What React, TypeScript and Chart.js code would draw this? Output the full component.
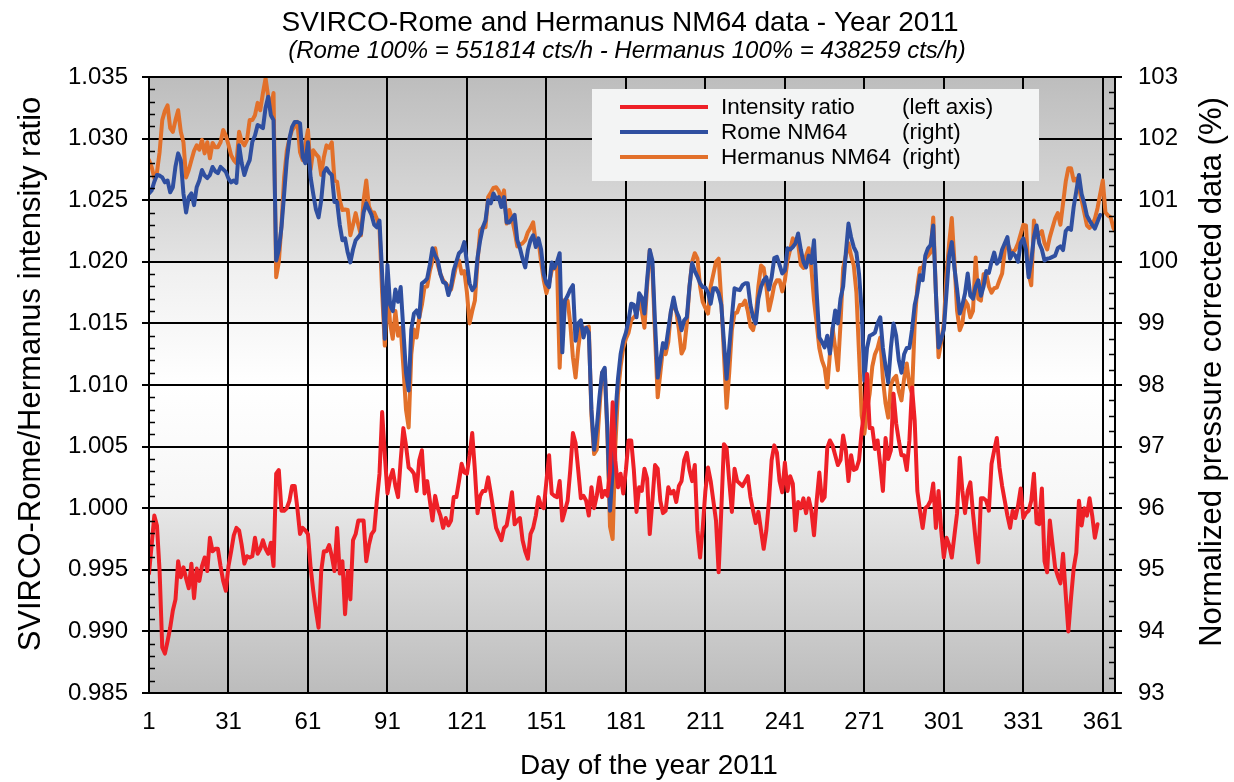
import React, { useEffect, useRef } from "react";
import { Chart, registerables } from "chart.js";

Chart.register(...registerables);

// ---- tick labels ----
const xTickDays = [1, 31, 61, 91, 121, 151, 181, 211, 241, 271, 301, 331, 361];
const leftTicks = [0.985, 0.99, 0.995, 1.0, 1.005, 1.01, 1.015, 1.02, 1.025, 1.03, 1.035];
const rightTicks = [93, 94, 95, 96, 97, 98, 99, 100, 101, 102, 103];

// ---- series (one value per day, starting on day 1) ----
const firstDay = 1;

const ratioValues = [
  0.9947, 0.997, 0.9994, 0.9986, 0.9949, 0.9887, 0.9882, 0.9892, 0.9903, 0.9917,
  0.9926, 0.9957, 0.9944, 0.9952, 0.9943, 0.9935, 0.9955, 0.9927, 0.9951, 0.9941,
  0.9953, 0.996, 0.9949, 0.9976, 0.9965, 0.9967, 0.9967, 0.9953, 0.9941, 0.9933,
  0.9953, 0.9965, 0.9978, 0.9984, 0.9982, 0.997, 0.9955, 0.9961, 0.996, 0.9961,
  0.9976, 0.9963, 0.9967, 0.9974, 0.9967, 0.9963, 0.9972, 0.9953, 1.0028, 1.0031,
  0.9998, 0.9998, 1.0, 1.0006, 1.0018, 1.0018, 1.0, 0.9979, 0.9984, 0.9982,
  0.9979, 0.9952, 0.9933, 0.9917, 0.9903, 0.9949, 0.9965, 0.9965, 0.997, 0.9961,
  0.9949, 0.9984, 0.9947, 0.9957, 0.9914, 0.9949, 0.9926, 0.9974, 0.9979, 0.999,
  0.999, 0.999, 0.9957, 0.997, 0.9979, 0.9982, 1.0006, 1.0028, 1.0078, 1.0043,
  1.0012, 1.0024, 1.0031, 1.0018, 1.0009, 1.0039, 1.0065, 1.0051, 1.0033, 1.0031,
  1.0028, 1.0014, 1.0039, 1.0047, 1.0012, 1.0022, 1.0006, 0.999, 1.001, 1.0,
  0.9994, 0.9984, 0.9992, 0.9986, 0.999, 1.0009, 1.0009, 1.0022, 1.0036, 1.0029,
  1.0028, 1.0043, 1.0061, 1.0031, 0.9996, 1.001, 1.0014, 1.0014, 1.0025, 1.0012,
  0.9998, 0.9984, 0.9979, 0.9974, 0.9984, 0.9986, 0.9998, 1.0013, 0.9987, 0.999,
  0.9992, 0.9974, 0.9965, 0.9959, 0.9979, 0.9984, 0.9994, 1.0009, 1.0002, 1.0,
  1.0022, 1.0043, 1.0012, 1.001, 1.0009, 1.0022, 0.999, 0.9998, 1.0006, 1.0031,
  1.0061, 1.0053, 1.0031, 1.0008, 1.001, 1.0006, 0.9994, 1.0017, 1.0, 1.001,
  1.0025, 1.0009, 1.0014, 1.001, 1.003, 1.0086, 1.0039, 1.0017, 1.0028, 1.0012,
  1.0031, 1.0055, 1.0055, 1.0031, 0.9997, 1.0017, 1.0014, 1.0032, 1.0024, 0.9979,
  1.0006, 1.0035, 1.0032, 1.0006, 0.9996, 0.9998, 1.0017, 1.0012, 1.0014, 1.0005,
  1.0018, 1.0022, 1.0039, 1.0045, 1.0031, 1.0022, 1.0035, 0.9982, 0.996, 0.9984,
  1.0014, 1.0033, 1.0022, 1.0006, 0.999, 0.9948, 0.9998, 1.0052, 1.0049, 1.0022,
  0.9997, 1.0032, 1.0022, 1.002, 1.0018, 1.0022, 1.0026, 1.0009, 0.9998, 0.9988,
  0.9997, 0.9982, 0.9967, 0.9982, 1.0006, 1.0039, 1.0051, 1.0045, 1.0022, 1.0013,
  1.0037, 1.0014, 1.0026, 1.002, 0.9982, 1.0005, 1.0, 1.0008, 0.9996, 1.0008,
  0.9998, 0.9978, 1.0006, 1.0029, 1.0006, 1.0009, 1.0049, 1.0055, 1.0051, 1.0043,
  1.0035, 1.0039, 1.0059, 1.0047, 1.0022, 1.0043, 1.0031, 1.0032, 1.0039, 1.0063,
  1.0079, 1.0109, 1.0065, 1.0065, 1.0048, 1.0055, 1.0035, 1.0014, 1.0057, 1.004,
  1.0047, 1.0093, 1.0069, 1.0055, 1.0043, 1.0043, 1.0031, 1.0055, 1.0098, 1.0071,
  1.0014, 0.9998, 0.9984, 1.0, 1.0002, 1.0006, 1.002, 0.9984, 1.0014, 0.9982,
  0.996, 0.9976, 0.997, 0.996, 0.9978, 0.9996, 1.0041, 1.0014, 0.9996, 1.0014,
  1.0021, 0.9996, 0.9974, 0.9956, 1.0008, 1.0008, 1.0006, 0.9998, 1.0036, 1.0047,
  1.0057, 1.0033, 1.0018, 1.0006, 0.9994, 0.9984, 0.9998, 0.9992, 1.0002, 1.0016,
  0.9992, 0.9996, 0.9998, 1.0006, 1.0028, 0.9988, 0.9987, 1.0016, 0.9957, 0.9948,
  0.999, 0.9971, 0.9952, 0.9945, 0.9939, 0.9963, 0.993, 0.99, 0.9927, 0.9951,
  0.9964, 1.0006, 0.9986, 1.0, 0.9994, 1.0008, 0.9994, 0.9976, 0.9987,
];

const romeValues = [
  101.11, 101.16, 101.3, 101.41, 101.4, 101.37, 101.29, 101.32, 101.13, 101.21,
  101.55, 101.76, 101.65, 101.11, 100.8, 101.05, 101.11, 100.92, 101.21, 101.32,
  101.49, 101.4, 101.36, 101.41, 101.54, 101.47, 101.44, 101.54, 101.5, 101.46,
  101.35, 101.29, 101.32, 101.28, 101.89, 101.6, 101.41, 101.55, 101.65, 101.95,
  102.05, 102.22, 102.2, 102.17, 102.5, 102.68, 102.38, 102.3, 100.02, 100.2,
  100.56, 101.1, 101.65, 102.0, 102.19, 102.27, 102.27, 102.25, 101.7, 101.6,
  101.94, 101.37, 101.1, 100.85, 100.72, 101.0, 101.45, 101.52, 101.45, 101.41,
  100.97, 100.97, 100.6, 100.35, 100.38, 100.15, 99.99, 100.2, 100.35, 100.4,
  100.46, 100.8, 100.95, 100.85, 100.76, 100.6, 100.56, 100.67, 99.8, 98.75,
  99.95, 99.3, 99.2, 99.55, 99.35, 99.59, 98.9, 98.2, 97.91, 98.9,
  99.16, 99.21, 99.1, 99.65, 99.68, 99.73, 99.95, 100.22, 100.1, 100.02,
  99.8, 99.67, 99.65, 99.46, 99.6, 99.86, 100.0, 100.14, 100.18, 100.32,
  99.98, 99.65, 99.54, 99.6, 100.07, 100.35, 100.56, 100.67, 101.0, 100.95,
  101.11, 101.02, 101.05, 100.89, 101.05, 100.64, 100.64, 100.7, 100.76, 100.35,
  100.22, 100.05, 99.91, 100.19, 100.35, 100.43, 100.24, 100.38, 100.2, 99.8,
  99.65, 99.59, 99.99, 99.9, 100.0, 100.14, 98.53, 99.37, 99.45, 99.55,
  99.62, 98.72, 99.0, 99.05, 98.77, 98.93, 98.85, 97.6, 96.95, 97.3,
  97.8, 98.2, 98.28, 97.3, 95.96, 96.6, 97.5, 98.1, 98.5, 98.72,
  98.85, 99.05, 99.32, 99.3, 99.1, 99.49, 99.42, 99.16, 99.7, 100.19,
  100.02, 99.0, 98.12, 98.4, 98.68, 98.6, 98.9, 99.2, 99.42, 99.2,
  99.1, 98.89, 99.05, 99.1, 99.6, 99.98, 99.85, 99.76, 99.65, 99.59,
  99.58, 99.5, 99.32, 99.57, 99.57, 99.49, 99.3, 98.7, 98.1, 98.6,
  99.1, 99.57, 99.55, 99.54, 99.62, 99.65, 99.65, 99.3, 99.1, 99.0,
  99.4, 99.59, 99.7, 99.75, 99.55, 99.75, 100.06, 100.08, 99.95, 99.81,
  99.86, 100.22, 100.2, 100.24, 100.3, 100.46, 100.2, 100.0, 99.91, 100.1,
  99.98, 100.35, 99.5, 98.77, 98.7, 98.61, 98.8, 98.51, 98.9, 99.21,
  99.0, 99.4, 99.6, 100.14, 100.62, 100.4, 100.24, 100.15, 99.8, 99.2,
  98.07, 98.6, 98.8, 98.82, 98.85, 99.0, 99.1, 98.6, 98.3, 98.04,
  98.6, 99.0, 98.8, 98.4, 98.2, 98.5, 98.6, 98.6, 98.9, 99.3,
  99.49, 99.78, 99.7, 100.1, 100.22, 100.27, 100.59, 99.5, 98.61, 98.75,
  98.9, 99.5, 100.1, 100.32, 99.9, 99.55, 99.16, 99.3, 99.49, 99.81,
  99.45, 99.4, 99.6, 99.7, 99.45, 99.6, 99.85, 99.82, 100.0, 100.15,
  99.97, 100.02, 100.2, 100.3, 100.4, 100.05, 100.14, 100.1, 100.0, 100.3,
  100.38, 100.2, 99.75, 100.02, 100.4, 100.59, 100.3, 100.2, 100.02, 100.05,
  100.06, 100.08, 100.1, 100.22, 100.25, 100.19, 100.5, 100.55, 100.52, 100.89,
  101.15, 101.41, 101.1, 100.95, 100.75, 100.67, 100.6, 100.54, 100.65, 100.76,
];

const hermanusValues = [
  101.65, 101.54, 101.36, 101.45, 101.78, 102.3, 102.45, 102.54, 102.17, 102.11,
  102.3, 102.46, 102.11, 101.94, 101.37, 101.49, 101.65, 101.8, 101.89, 101.82,
  101.98, 101.76, 101.94, 101.68, 101.93, 101.86, 101.86, 101.94, 102.14, 102.05,
  101.9, 101.73, 101.65, 101.6, 102.11, 101.95, 101.89, 101.98, 102.3, 102.3,
  102.38, 102.58, 102.46, 102.74, 102.98, 102.68, 102.5, 102.74, 99.75, 100.0,
  100.6, 101.37, 101.8, 102.0, 102.14, 102.2, 102.27, 101.78, 101.65, 101.9,
  102.14, 101.5, 101.81, 101.75, 101.7, 101.41, 101.7, 101.89, 101.85, 101.94,
  101.32, 101.3, 101.0, 100.84, 100.85, 100.84, 100.43, 100.6, 100.79, 100.6,
  100.43, 101.0, 101.32, 100.9, 100.8, 100.8, 100.7, 100.56, 99.5, 98.64,
  99.6, 99.0, 98.75, 99.2, 98.8, 98.93, 98.3, 97.6, 97.31, 98.5,
  98.9, 98.77, 99.1, 99.3, 99.59, 99.6, 99.85, 100.02, 100.22, 99.95,
  99.8, 99.7, 99.65, 99.6, 99.55, 99.75, 99.95, 100.02, 99.81, 99.85,
  99.5, 99.0, 99.2, 99.37, 100.0, 100.51, 100.56, 100.56, 101.05, 101.12,
  101.2, 101.21, 101.15, 101.0, 101.16, 100.62, 100.84, 100.7, 100.5, 100.25,
  100.28, 100.3, 100.35, 100.48, 100.55, 100.64, 100.3, 100.35, 100.0, 99.7,
  99.49, 99.65, 99.86, 99.9, 99.95, 98.28, 99.37, 99.37, 99.37, 99.0,
  98.45, 98.12, 98.6, 98.93, 98.93, 98.93, 98.95, 97.5, 96.88, 96.95,
  97.6, 98.2, 98.24, 97.2, 95.7, 95.5, 97.0, 97.86, 98.3, 98.6,
  98.75, 98.85, 99.05, 99.1, 99.15, 99.37, 99.2, 98.93, 99.6, 100.19,
  99.9, 98.8, 97.8, 98.2, 98.6, 98.5, 98.7, 99.2, 99.3, 99.2,
  98.9, 98.51, 98.6, 99.0, 99.6, 100.0, 100.14, 100.05, 99.6, 99.35,
  99.25, 99.16, 99.6, 99.8, 100.0, 100.05, 99.37, 98.5, 97.63, 98.2,
  98.9, 99.16, 99.18, 99.3, 99.3, 99.37, 99.2, 98.95, 98.89, 99.1,
  99.6, 99.94, 99.9, 99.6, 99.21, 99.4, 99.62, 99.7, 99.7, 99.52,
  99.7, 100.02, 100.2, 100.38, 100.3, 100.3, 99.95, 99.9, 100.1, 100.22,
  99.9, 99.37, 99.0, 98.6, 98.4, 98.28, 97.96, 98.5, 98.93, 98.6,
  98.24, 99.0, 99.9, 100.1, 100.3, 100.1, 99.94, 99.5, 98.5, 97.5,
  97.21, 97.6, 97.86, 98.3, 98.5, 98.6, 98.77, 98.1, 97.7, 97.47,
  98.0, 98.1, 98.15, 97.9, 97.75, 98.1, 98.35, 98.0, 97.86, 99.0,
  99.6, 99.9, 99.9, 100.05, 100.1, 100.15, 100.72, 99.5, 98.45, 98.7,
  99.0, 99.8, 100.3, 100.71, 100.0, 99.2, 98.89, 99.0, 99.37, 99.3,
  99.1, 99.2, 100.07, 99.4, 99.37, 99.8, 99.81, 99.6, 99.5, 99.57,
  99.58, 99.7, 99.81, 100.2, 100.3, 100.19, 100.15, 100.2, 100.3, 100.45,
  100.6, 100.59, 99.8, 99.62, 100.67, 100.4, 100.45, 100.5, 100.3, 100.2,
  100.4, 100.55, 100.7, 100.79, 100.6, 100.95, 101.3, 101.52, 101.52, 101.32,
  101.35, 101.2, 101.0, 100.8, 100.59, 100.55, 100.6, 100.7, 100.87, 101.1,
  101.32, 100.8, 100.75, 100.72, 100.55, 100.48,
];

const seriesLabels = ["Intensity ratio", "Rome NM64", "Hermanus NM64"];
const seriesNotes = ["(left axis)", "(right)", "(right)"];
const seriesColors = ["#ee2027", "#2f4fa0", "#e2702a"];

const titleText = "SVIRCO-Rome and Hermanus NM64 data - Year 2011";
const subtitleText = "(Rome 100% = 551814 cts/h - Hermanus 100% = 438259 cts/h)";
const xTitle = "Day of the year 2011";
const leftTitle = "SVIRCO-Rome/Hermanus intensity ratio";
const rightTitle = "Normalized pressure corrected data (%)";

const FONT = '"Liberation Sans", Arial, Helvetica, sans-serif';

const toPoints = (vals: number[]) => vals.map((v, i) => ({ x: firstDay + i, y: v }));

const decorPlugin = {
  id: "decor",
  beforeDraw(chart: any) {
    const { ctx, chartArea } = chart;
    const { left, top, right, bottom } = chartArea;
    const h = bottom - top;
    const g = ctx.createLinearGradient(0, top, 0, bottom);
    g.addColorStop(0, "#bdbdbd");
    g.addColorStop(0.299, "#e3e3e3");
    g.addColorStop(0.301, "#efefef");
    g.addColorStop(0.5, "#ffffff");
    g.addColorStop(0.699, "#f6f6f6");
    g.addColorStop(0.701, "#e6e6e6");
    g.addColorStop(1, "#bcbcbc");
    ctx.save();
    ctx.fillStyle = "#ffffff";
    ctx.fillRect(0, 0, chart.width, chart.height);
    ctx.fillStyle = g;
    ctx.fillRect(left, top, right - left, h);
    ctx.restore();
  },
  afterDraw(chart: any) {
    const { ctx, chartArea, scales } = chart;
    const { left, top, right, bottom } = chartArea;
    ctx.save();
    // minor ticks
    ctx.strokeStyle = "#000";
    ctx.lineWidth = 1.6;
    const yL = scales.y;
    const yR = scales.y2;
    ctx.beginPath();
    for (let k = 0; k <= 50; k++) {
      if (k % 5 === 0) continue;
      const py = Math.round(yL.getPixelForValue(0.985 + k * 0.001)) + 0.5;
      ctx.moveTo(left, py);
      ctx.lineTo(left + 6, py);
    }
    for (let k = 0; k <= 40; k++) {
      if (k % 4 === 0) continue;
      const py = Math.round(yR.getPixelForValue(93 + k * 0.25)) + 0.5;
      ctx.moveTo(right, py);
      ctx.lineTo(right - 6, py);
    }
    for (const t of rightTicks) {
      const py = Math.round(yR.getPixelForValue(t));
      ctx.moveTo(right - 6, py);
      ctx.lineTo(right, py);
    }
    ctx.stroke();
    // frame
    ctx.lineWidth = 2;
    ctx.strokeRect(left, top, right - left, bottom - top);

    // legend
    ctx.fillStyle = "#f3f4f4";
    ctx.fillRect(592, 89, 447, 92);
    const rows = [107, 132, 157];
    ctx.font = `22.5px ${FONT}`;
    ctx.textBaseline = "middle";
    ctx.textAlign = "left";
    rows.forEach((ry, i) => {
      ctx.strokeStyle = seriesColors[i];
      ctx.lineWidth = 4;
      ctx.beginPath();
      ctx.moveTo(620, ry);
      ctx.lineTo(708, ry);
      ctx.stroke();
      ctx.fillStyle = "#000";
      ctx.fillText(seriesLabels[i], 721, ry + 1);
      ctx.fillText(seriesNotes[i], 902, ry + 1);
    });

    // titles
    ctx.fillStyle = "#000";
    ctx.textAlign = "center";
    ctx.textBaseline = "alphabetic";
    ctx.font = `28px ${FONT}`;
    ctx.fillText(titleText, 620, 31);
    ctx.font = `italic 24px ${FONT}`;
    ctx.fillText(subtitleText, 627, 58);
    ctx.font = `28px ${FONT}`;
    ctx.fillText(xTitle, 649, 774);

    ctx.textBaseline = "middle";
    ctx.font = `31px ${FONT}`;
    ctx.save();
    ctx.translate(31, 374);
    ctx.rotate(-Math.PI / 2);
    ctx.fillText(leftTitle, 0, 0);
    ctx.restore();
    ctx.save();
    ctx.translate(1212, 372);
    ctx.rotate(-Math.PI / 2);
    ctx.fillText(rightTitle, 0, 0);
    ctx.restore();

    ctx.restore();
  },
};

export default function App() {
  const ref = useRef<HTMLCanvasElement | null>(null);

  useEffect(() => {
    document.body.style.margin = "0";
    const canvas = ref.current;
    if (!canvas) return;
    const lineStyle = {
      borderWidth: 4,
      pointRadius: 0,
      tension: 0,
      borderJoinStyle: "round" as const,
      borderCapStyle: "round" as const,
    };
    const chart = new Chart(canvas, {
      type: "line",
      data: {
        datasets: [
          {
            label: seriesLabels[0],
            data: toPoints(ratioValues),
            yAxisID: "y",
            borderColor: seriesColors[0],
            ...lineStyle,
          },
          {
            label: seriesLabels[1],
            data: toPoints(romeValues),
            yAxisID: "y2",
            borderColor: seriesColors[1],
            ...lineStyle,
          },
          {
            label: seriesLabels[2],
            data: toPoints(hermanusValues),
            yAxisID: "y2",
            borderColor: seriesColors[2],
            ...lineStyle,
          },
        ],
      },
      options: {
        responsive: false,
        animation: false,
        events: [],
        layout: { padding: { top: 77, left: 0, right: 0, bottom: 0 } },
        plugins: {
          legend: { display: false },
          title: { display: false },
          tooltip: { enabled: false },
        },
        scales: {
          x: {
            type: "linear",
            min: 1,
            max: 365.6,
            afterBuildTicks: (s: any) => {
              s.ticks = xTickDays.map((v) => ({ value: v }));
            },
            afterFit: (s: any) => {
              s.height = 89;
            },
            ticks: {
              autoSkip: false,
              maxRotation: 0,
              padding: 15,
              color: "#000",
              font: { family: FONT, size: 24 },
              callback: (v: any) => String(v),
            },
            grid: { color: "#000", lineWidth: 2, drawTicks: false },
            border: { display: true, color: "#000", width: 2 },
          },
          y: {
            type: "linear",
            position: "left",
            min: 0.985,
            max: 1.035,
            afterBuildTicks: (s: any) => {
              s.ticks = leftTicks.map((v) => ({ value: v }));
            },
            afterFit: (s: any) => {
              s.width = 149;
            },
            ticks: {
              padding: 14,
              color: "#000",
              font: { family: FONT, size: 24 },
              callback: (v: any) => Number(v).toFixed(3),
            },
            grid: { color: "#000", lineWidth: 2, tickLength: 7 },
            border: { display: true, color: "#000", width: 2 },
          },
          y2: {
            type: "linear",
            position: "right",
            min: 93,
            max: 103,
            afterBuildTicks: (s: any) => {
              s.ticks = rightTicks.map((v) => ({ value: v }));
            },
            afterFit: (s: any) => {
              s.width = 119;
            },
            ticks: {
              padding: 16,
              color: "#000",
              font: { family: FONT, size: 24 },
              callback: (v: any) => String(v),
            },
            grid: { color: "#000", lineWidth: 2, tickLength: 7, drawOnChartArea: false },
            border: { display: true, color: "#000", width: 2 },
          },
        },
      },
      plugins: [decorPlugin],
    });
    return () => chart.destroy();
  }, []);

  return (
    <div style={{ position: "fixed", left: 0, top: 0, width: 1234, height: 782, background: "#fff" }}>
      <canvas ref={ref} width={1234} height={782} style={{ display: "block" }} />
    </div>
  );
}
